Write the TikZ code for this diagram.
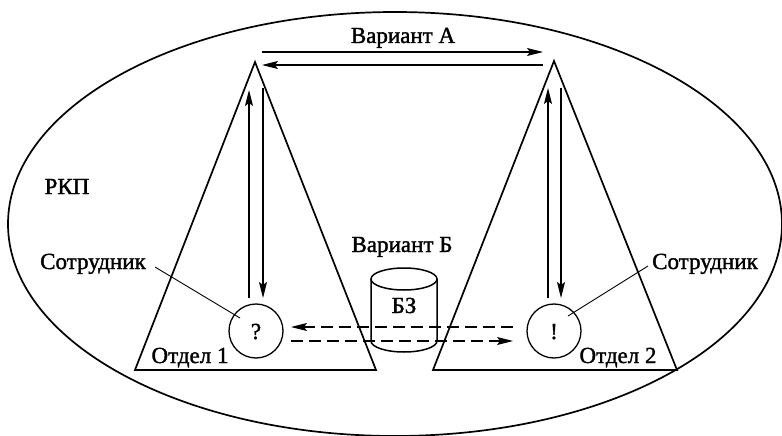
\documentclass[tikz,border=0pt]{standalone}
\usepackage{fontspec}
\setmainfont{Liberation Serif}
\newfontfamily\tnr[FakeBold=1.5]{Liberation Serif}
\usetikzlibrary{arrows.meta,shapes.geometric}
\tikzset{
  lbl/.style={inner sep=0pt, anchor=base, font=\tnr\fontsize{23}{27}\selectfont},
  shapeline/.style={line width=1.7pt},
  arr/.style={line width=1.2pt, -{Stealth[length=16pt,width=8pt,inset=3pt]}},
  darr/.style={line width=1.2pt, dash pattern=on 12pt off 6pt, -{Stealth[length=16pt,width=8pt,inset=3pt]}},
  leader/.style={line width=0.9pt},
  person/.style={circle, draw, line width=1.3pt, minimum size=54pt, inner sep=0pt},
}
\begin{document}
\begin{tikzpicture}[x=1pt,y=-1pt]
\useasboundingbox (0,0) rectangle (782,436);
% outer ellipse
\draw[shapeline] (395,224) ellipse [x radius=387, y radius=212];
% triangles
\coordinate (t1a) at (255,62);
\coordinate (t1l) at (135,370);
\coordinate (t1r) at (376,370);
\coordinate (t2a) at (554,61);
\coordinate (t2l) at (433,370);
\coordinate (t2r) at (677,370);
\draw[shapeline, line join=miter] (t1a) -- (t1l) -- (t1r) -- cycle;
\draw[shapeline, line join=miter] (t2a) -- (t2l) -- (t2r) -- cycle;
% employees
\node[person] (p1) at (256,331) {};
\node[person] (p2) at (554,331) {};
\node[lbl] at (256,339) {?};
\node[lbl] at (554,339) {!};
% variant A
\coordinate (a1s) at (262,52);
\coordinate (a1e) at (543,52);
\coordinate (a2s) at (543,65);
\coordinate (a2e) at (262,65);
\draw[arr] (a1s) -- (a1e);
\draw[arr] (a2s) -- (a2e);
\node[lbl] (va) at (403,43) {Вариант А};
% vertical arrows left
\coordinate (l1s) at (249,298);
\coordinate (l1e) at (249,90);
\coordinate (l2s) at (263,88);
\coordinate (l2e) at (263,298);
\draw[arr] (l1s) -- (l1e);
\draw[arr] (l2s) -- (l2e);
% vertical arrows right
\coordinate (r1s) at (548,298);
\coordinate (r1e) at (548,88);
\coordinate (r2s) at (561,88);
\coordinate (r2e) at (561,298);
\draw[arr] (r1s) -- (r1e);
\draw[arr] (r2s) -- (r2e);
% knowledge base cylinder
\draw[line width=1.5pt] (371,279) -- (371,341) arc[start angle=180, end angle=0, x radius=33, y radius=11] -- (437,279);
\draw[line width=1.5pt] (404,279) ellipse [x radius=33, y radius=11];
\node[lbl] (bz) at (404,313) {БЗ};
\node[lbl] (vb) at (402,252) {Вариант Б};
% dashed arrows
\coordinate (d1s) at (513,327);
\coordinate (d1e) at (291,327);
\coordinate (d2s) at (291,341);
\coordinate (d2e) at (513,341);
\draw[darr] (d1s) -- (d1e);
\draw[darr] (d2s) -- (d2e);
% labels
\node[lbl] (rkp) at (67,194) {РКП};
\node[lbl] (s1) at (93,269) {Сотрудник};
\node[lbl] (s2) at (705,269) {Сотрудник};
\node[lbl] (o1) at (190,363) {Отдел 1};
\node[lbl] (o2) at (618,363) {Отдел 2};
\coordinate (s1p) at (155,267);
\coordinate (s1q) at (240,318);
\coordinate (s2p) at (648,266);
\coordinate (s2q) at (568,316);
\draw[leader] (s1p) -- (s1q);
\draw[leader] (s2p) -- (s2q);
\end{tikzpicture}
\end{document}
